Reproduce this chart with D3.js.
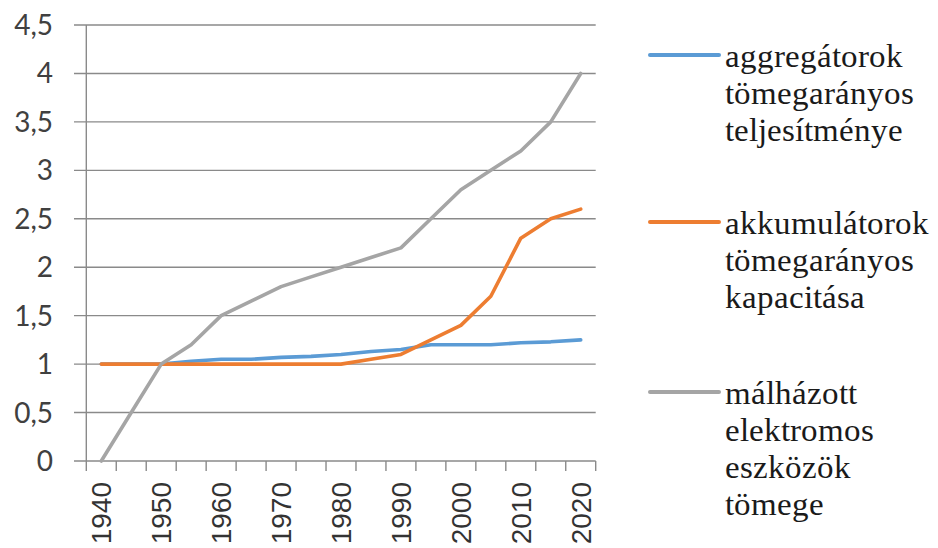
<!DOCTYPE html>
<html><head><meta charset="utf-8">
<script src="https://cdn.jsdelivr.net/npm/d3@7/dist/d3.min.js"></script>
<style>
@font-face { font-family: "LegSerif"; src: local("Liberation Serif"), local("LiberationSerif"), local("Tinos"), local("Times New Roman"); }
.leg { font-family: "LegSerif", "Liberation Serif", "Tinos", "Times New Roman"; }
</style>
</head><body style="margin:0">
<script>
const years = [1940,1945,1950,1955,1960,1965,1970,1975,1980,1985,1990,1995,2000,2005,2010,2015,2020];
const aggregatorok = [1.0,1.0,1.0,1.03,1.05,1.05,1.07,1.08,1.1,1.13,1.15,1.2,1.2,1.2,1.22,1.23,1.25];
const akkumulatorok = [1.0,1.0,1.0,1.0,1.0,1.0,1.0,1.0,1.0,1.05,1.1,1.25,1.4,1.7,2.3,2.5,2.6];
const malhazott = [0,0.5,1.0,1.2,1.5,1.65,1.8,1.9,2.0,2.1,2.2,2.5,2.8,3.0,3.2,3.5,4.0];
const yTicks = [0,0.5,1,1.5,2,2.5,3,3.5,4,4.5];
const seriesNames = [
  ["aggregátorok","tömegarányos","teljesítménye"],
  ["akkumulátorok","tömegarányos","kapacitása"],
  ["málházott","elektromos","eszközök","tömege"]
];
const colors = ["#5B9BD5","#ED7D31","#A5A5A5"];
const series = [aggregatorok, akkumulatorok, malhazott];

const W = 938, H = 548;
const svg = d3.select("body").append("svg").attr("width", W).attr("height", H).style("display", "block");

const x = d3.scaleBand().domain(years).range([86.3, 595.7]).paddingInner(0).paddingOuter(0);
const y = d3.scaleLinear().domain([0, 4.5]).range([461, 25]);
const gridColor = "#8a8a8a";

svg.append("g").selectAll("line").data(yTicks).join("line")
  .attr("x1", 74).attr("x2", x.range()[1])
  .attr("y1", d => y(d)).attr("y2", d => y(d))
  .attr("stroke", gridColor).attr("stroke-width", 1.4);
yTicks.forEach(d => {
  svg.append("text").attr("x", 53).attr("y", y(d) + 10)
    .attr("text-anchor", "end")
    .style("font-family", '"Lato", monospace').attr("font-size", 28)
    .attr("fill", "#404040")
    .text(String(d).replace(".", ","));
});

svg.append("line").attr("x1", x.range()[0]).attr("x2", x.range()[0])
  .attr("y1", y(4.5)).attr("y2", y(0) + 10)
  .attr("stroke", gridColor).attr("stroke-width", 1.4);
const bounds = years.map(d => x(d)).concat([x.range()[1]]);
svg.append("g").selectAll("line").data(bounds.slice(1)).join("line")
  .attr("x1", d => d).attr("x2", d => d)
  .attr("y1", y(0)).attr("y2", y(0) + 10)
  .attr("stroke", gridColor).attr("stroke-width", 1.4);
years.filter(d => d % 10 === 0).forEach(d => {
  svg.append("text")
    .attr("transform", `translate(${x(d) + x.bandwidth()/2 + 10},482) rotate(-90)`)
    .attr("text-anchor", "end")
    .style("font-family", '"Liberation Sans", monospace').attr("font-size", 28)
    .attr("fill", "#333")
    .text(d);
});

const line = d3.line().x((d, i) => x(years[i]) + x.bandwidth()/2).y(d => y(d));
series.forEach((s, k) => {
  svg.append("path").datum(s).attr("d", line)
    .attr("fill", "none").attr("stroke", colors[k]).attr("stroke-width", 3.6)
    .attr("stroke-linejoin", "round").attr("stroke-linecap", "round");
});

const legendY = [55, 222, 392];
seriesNames.forEach((lines, k) => {
  svg.append("line").attr("x1", 650).attr("x2", 719)
    .attr("y1", legendY[k]).attr("y2", legendY[k])
    .attr("stroke", colors[k]).attr("stroke-width", 4).attr("stroke-linecap", "round");
  lines.forEach((t, j) => {
    svg.append("text").attr("class", "leg").attr("x", 725).attr("y", legendY[k] + 12 + j * 37)
      .attr("font-size", 33).attr("fill", "#1a1a1a")
      .text(t);
  });
});
</script>
</body></html>
